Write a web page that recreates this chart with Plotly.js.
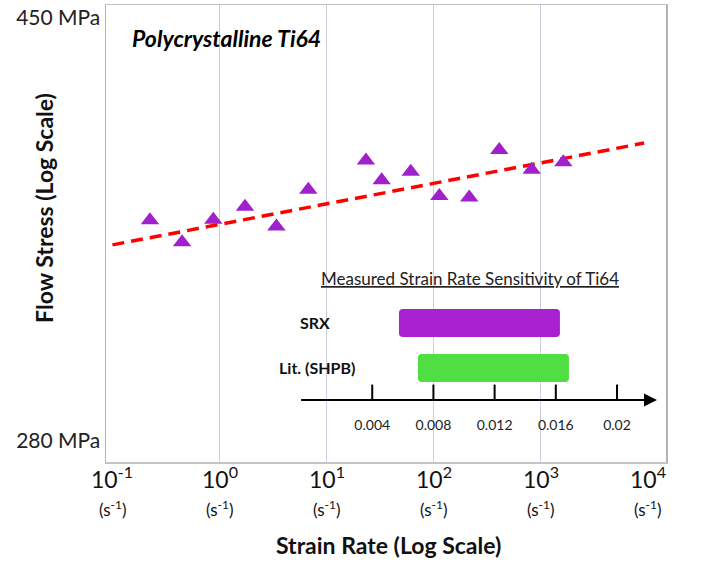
<!DOCTYPE html>
<html><head><meta charset="utf-8">
<script src="https://cdn.plot.ly/plotly-3.0.1.min.js"></script>
<style>html,body{margin:0;padding:0;background:#fff}#chart{width:705px;height:571px}</style>
</head><body><div id="chart"></div>
<script>
// Flow stress data (strain rate in 1/s, flow stress in MPa)
const strainRate = [0.224, 0.447, 0.875, 1.73, 3.40, 6.75, 23.3, 32.7, 61.1, 113, 215, 410, 824, 1626];
const flowStress = [358.7, 349.9, 358.9, 364.1, 356.2, 371.2, 383.5, 375.1, 378.7, 368.6, 367.9, 388.1, 379.6, 382.8];
// Trend line
const fitRate = [0.1, 9230];
const fitStress = [348.9, 391.1];
// Axes
const gridRates = [1, 10, 100, 1000];
const decadeExps = [-1, 0, 1, 2, 3, 4];
const yTickVals = [280, 450];
const yTickText = ['280 MPa', '450 MPa'];
// Inset: measured strain rate sensitivity
const srsMethods = ['SRX', 'Lit. (SHPB)'];
const srsLow = [0.00575, 0.00699];
const srsHigh = [0.01627, 0.01686];
const srsColors = ['#a820d0', '#50df42'];
const srsTicks = [0.004, 0.008, 0.012, 0.016, 0.02];
const srsTickText = ['0.004', '0.008', '0.012', '0.016', '0.02'];

const FONT = 'Lato, "Open Sans", sans-serif';
const insetAxisY = -0.711;
const insetLabelX = [0.00137, 0.00301];

const methodPos = srsMethods.map((m, i) => srsMethods.length - 1 - i);

const traces = [
  {
    type: 'scatter', mode: 'lines', x: fitRate, y: fitStress,
    line: {color: '#ff0000', width: 3.5, dash: '12px,7px'},
    hoverinfo: 'skip', showlegend: false
  },
  {
    type: 'scatter', mode: 'markers', x: strainRate, y: flowStress,
    marker: {symbol: 'triangle-up', size: 16, color: '#a020cc'},
    showlegend: false
  },
  {
    type: 'bar', orientation: 'h', xaxis: 'x3', yaxis: 'y3',
    y: methodPos, base: srsLow,
    x: srsHigh.map((h, i) => h - srsLow[i]),
    width: 0.62,
    marker: {color: srsColors, cornerradius: 4},
    showlegend: false
  },
  {
    type: 'scatter', mode: 'markers', xaxis: 'x3', yaxis: 'y3',
    x: srsTicks, y: srsTicks.map(() => insetAxisY),
    marker: {symbol: 'line-ns', size: 22, line: {width: 2, color: '#000'}},
    hoverinfo: 'skip', showlegend: false
  }
];

const annotations = [];
decadeExps.forEach(e => {
  annotations.push({
    xref: 'x', yref: 'paper', x: e, y: -0.035, yanchor: 'middle', showarrow: false,
    text: '10<sup>' + e + '</sup>', font: {family: FONT, size: 23, color: '#111'}
  });
  annotations.push({
    xref: 'x', yref: 'paper', x: e, y: -0.1007, yanchor: 'middle', showarrow: false,
    text: '(s<sup>-1</sup>)', font: {family: FONT, size: 17, color: '#111'}
  });
});
annotations.push({
  xref: 'paper', yref: 'paper', x: 0.5036, y: -0.1816, yanchor: 'middle', showarrow: false,
  text: '<b>Strain Rate (Log Scale)</b>', font: {family: FONT, size: 23, color: '#111'}
});
annotations.push({
  xref: 'paper', yref: 'paper', x: -0.1107, y: 0.556, xanchor: 'center', yanchor: 'middle',
  textangle: -90, showarrow: false,
  text: '<b>Flow Stress (Log Scale)</b>', font: {family: FONT, size: 23, color: '#111'}
});
annotations.push({
  xref: 'paper', yref: 'paper', x: 0.043, y: 0.928, xanchor: 'left', yanchor: 'middle', showarrow: false,
  text: '<b><i>Polycrystalline Ti64</i></b>', font: {family: FONT, size: 23, color: '#000'}
});
annotations.push({
  xref: 'paper', yref: 'paper', x: 0.65, y: 0.4026, xanchor: 'center', yanchor: 'middle', showarrow: false,
  text: '<u>Measured Strain Rate Sensitivity of Ti64</u>', font: {family: FONT, size: 17, color: '#222'}
});
srsMethods.forEach((m, i) => {
  annotations.push({
    xref: 'x3', yref: 'y3', x: insetLabelX[i], y: methodPos[i], xanchor: 'right', yanchor: 'middle',
    showarrow: false, text: '<b>' + m + '</b>', font: {family: FONT, size: 16, color: '#111'}
  });
});
annotations.push({
  xref: 'x3', yref: 'y3', x: 0.022614, y: insetAxisY, axref: 'x3', ayref: 'y3',
  ax: -0.00085, ay: insetAxisY, text: ' ', showarrow: true,
  arrowhead: 2, arrowsize: 1.3, arrowwidth: 2, arrowcolor: '#000'
});

const layout = {
  width: 705, height: 571,
  margin: {l: 106, r: 39, t: 5, b: 109},
  paper_bgcolor: '#ffffff', plot_bgcolor: 'rgba(0,0,0,0)',
  font: {family: FONT},
  xaxis: {
    type: 'log', range: [-1.06, 4.17], tickmode: 'array', tickvals: gridRates,
    showticklabels: false, ticks: '', showgrid: true, gridcolor: '#cdcde0', gridwidth: 1.5,
    showline: true, mirror: true, linecolor: '#c4c4c4', linewidth: 1.5, zeroline: false
  },
  yaxis: {
    type: 'log', range: [2.437, 2.6595], tickmode: 'array', tickvals: yTickVals, ticktext: yTickText,
    ticks: '', showgrid: false, tickfont: {family: FONT, size: 21, color: '#222'},
    showline: true, mirror: true, linecolor: '#b4b4b4', linewidth: 1.5, zeroline: false
  },
  xaxis3: {
    domain: [0.3429, 0.9839], anchor: 'y3', range: [-0.00085, 0.022614],
    tickmode: 'array', tickvals: srsTicks, ticktext: srsTickText, ticks: '',
    ticklabelstandoff: 15, tickfont: {family: FONT, size: 14, color: '#222'},
    showgrid: false, zeroline: false, showline: false
  },
  yaxis3: {
    domain: [0.1357, 0.3545], anchor: 'x3', range: [insetAxisY, 1.511],
    visible: false, showgrid: false, zeroline: false
  },
  annotations: annotations,
  showlegend: false
};

Plotly.newPlot('chart', traces, layout, {staticPlot: true});
</script>
</body></html>
